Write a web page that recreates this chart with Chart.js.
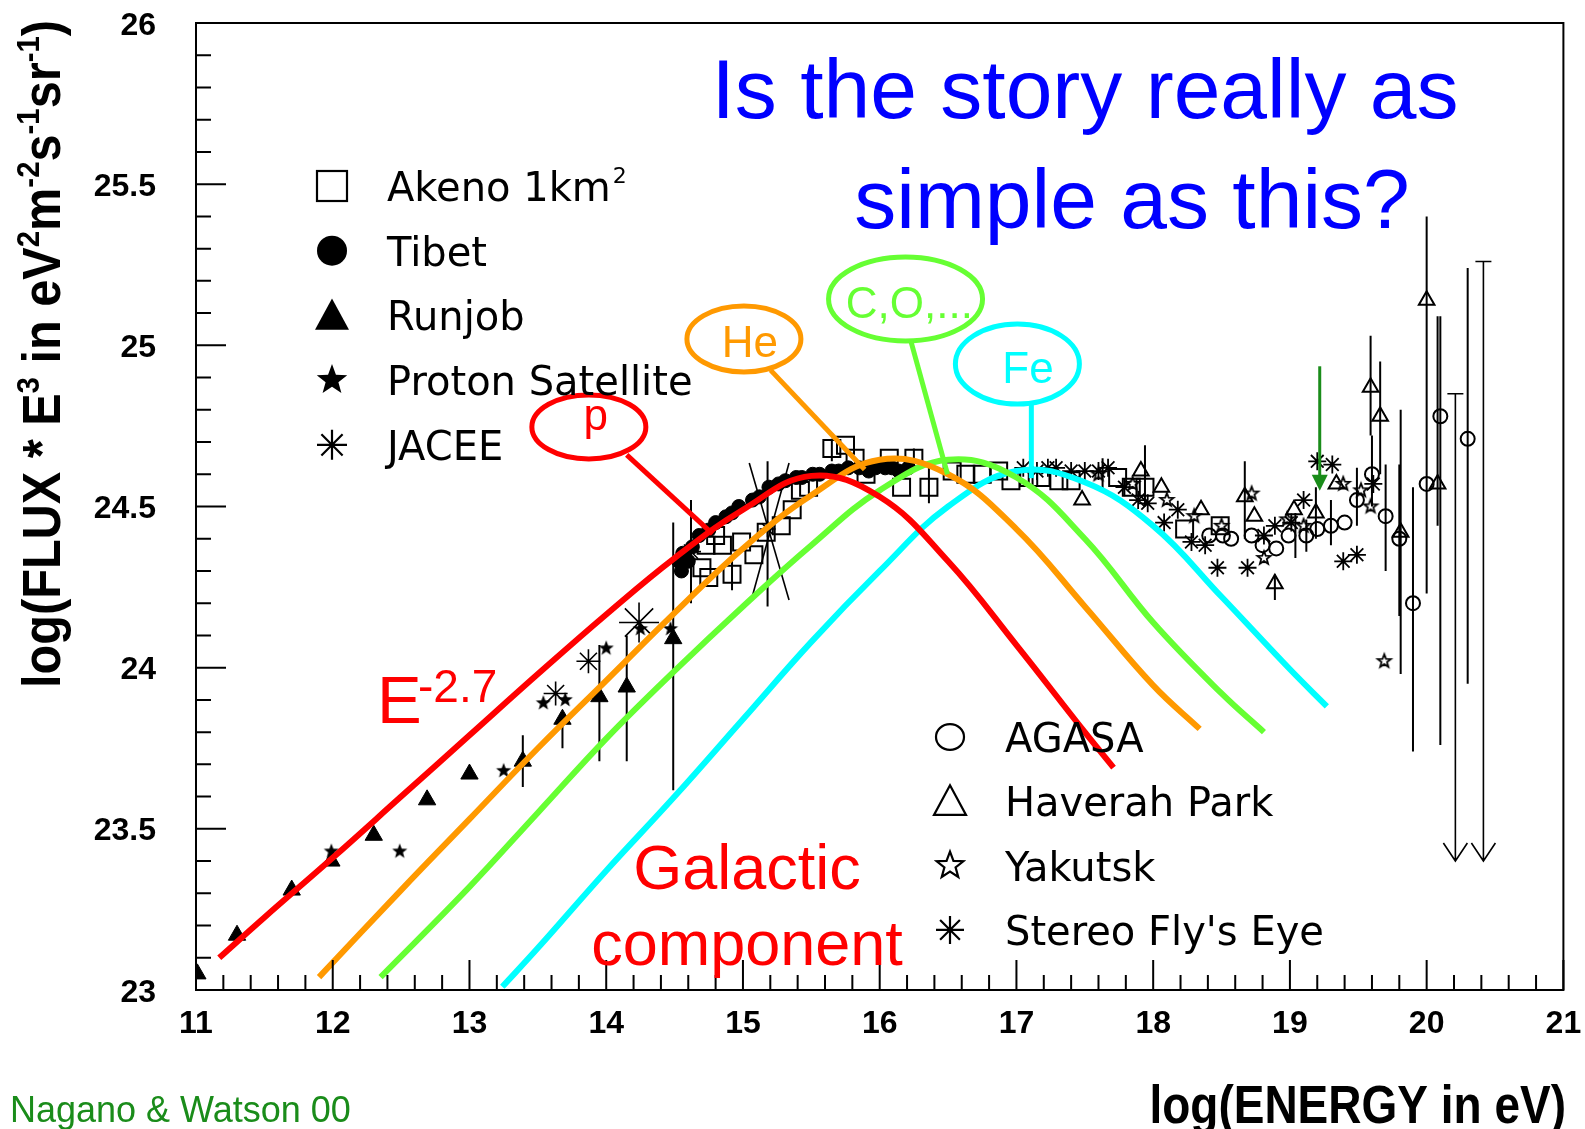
<!DOCTYPE html>
<html>
<head>
<meta charset="utf-8">
<script src="https://cdn.jsdelivr.net/npm/chart.js@4.4.1/dist/chart.umd.min.js"></script>
<style>
  html, body { margin: 0; padding: 0; background: #fff; }
  #wrap { position: relative; width: 1585px; height: 1129px; }
</style>
</head>
<body>
<div id="wrap"><canvas id="chart" width="1585" height="1129"></canvas></div>
<script>
// axis ticks
const xTicks = [11, 12, 13, 14, 15, 16, 17, 18, 19, 20, 21];
const yTicks = [23, 23.5, 24, 24.5, 25, 25.5, 26];

// model curves (log E, log flux*E^3)
const protonCurve = [[11.17, 23.10], [11.5, 23.225], [12.0, 23.41], [12.5, 23.60], [13.0, 23.79], [13.5, 23.98],
  [14.0, 24.165], [14.5, 24.34], [15.0, 24.49], [15.5, 24.595], [16.0, 24.53], [16.5, 24.33], [17.0, 24.07],
  [17.5, 23.80], [17.71, 23.69]];
const heliumCurve = [[11.90, 23.04], [12.5, 23.31], [13.0, 23.53], [13.5, 23.75], [14.0, 23.96], [14.5, 24.17],
  [15.0, 24.37], [15.5, 24.535], [16.0, 24.645], [16.5, 24.60], [17.0, 24.43], [17.5, 24.19], [18.0, 23.945],
  [18.34, 23.81]];
const cnoCurve = [[12.35, 23.04], [13.0, 23.32], [13.5, 23.55], [14.0, 23.78], [14.5, 23.99], [15.0, 24.19],
  [15.5, 24.38], [16.0, 24.55], [16.5, 24.645], [17.0, 24.59], [17.5, 24.40], [18.0, 24.14], [18.5, 23.92],
  [18.81, 23.80]];
const ironCurve = [[13.24, 23.01], [13.5, 23.13], [14.0, 23.37], [14.5, 23.60], [15.0, 23.84], [15.5, 24.08],
  [16.0, 24.30], [16.5, 24.50], [17.0, 24.61], [17.5, 24.575], [18.0, 24.44], [18.5, 24.22], [19.0, 23.995],
  [19.27, 23.88]];

// measurements
const akeno = [[14.70, 24.31], [14.73, 24.38], [14.75, 24.28], [14.80, 24.41], [14.85, 24.38], [14.92, 24.29],
  [14.99, 24.39], [15.08, 24.35], [15.17, 24.42], [15.28, 24.44], [15.36, 24.49], [15.42, 24.55], [15.48, 24.56],
  [15.65, 24.68], [15.75, 24.69], [15.82, 24.65], [15.90, 24.60], [16.07, 24.65], [16.16, 24.56], [16.25, 24.65],
  [16.36, 24.56], [16.53, 24.61], [16.63, 24.60], [16.75, 24.60], [16.87, 24.61], [16.96, 24.58], [17.09, 24.59],
  [17.18, 24.59], [17.31, 24.58], [17.40, 24.58], [17.74, 24.59], [17.84, 24.56], [17.94, 24.56], [18.23, 24.43],
  [18.49, 24.44]];
const tibet = [[14.53, 24.33], [14.55, 24.30], [14.56, 24.355], [14.60, 24.33], [14.63, 24.375], [14.68, 24.41],
  [14.75, 24.427], [14.80, 24.45], [14.875, 24.468], [14.92, 24.48], [14.97, 24.50], [15.07, 24.52], [15.12, 24.53],
  [15.19, 24.56], [15.26, 24.57], [15.31, 24.58], [15.39, 24.59], [15.43, 24.59], [15.51, 24.60], [15.56, 24.60],
  [15.65, 24.61], [15.70, 24.61], [15.77, 24.62], [15.85, 24.62], [15.92, 24.61], [15.97, 24.62], [16.04, 24.62],
  [16.09, 24.62], [16.14, 24.61], [16.21, 24.62]];
const runjob = [[11.01, 23.05], [11.30, 23.17], [11.70, 23.31], [11.99, 23.40], [12.30, 23.48], [12.69, 23.59],
  [13.0, 23.67], [13.39, 23.71], [13.68, 23.84], [13.95, 23.91], [14.15, 23.94], [14.49, 24.09]];
const protonSat = [[11.99, 23.43], [12.49, 23.43], [13.25, 23.68], [13.54, 23.89], [13.70, 23.90], [14.0, 24.06],
  [14.25, 24.12], [14.47, 24.12]];
const jacee = [[13.63, 23.92], [13.87, 24.02], [14.24, 24.14], [14.62, 24.36], [15.18, 24.43]];
const jaceeSize = [12, 12, 20, 10, 8];
const agasa = [[18.41, 24.41], [18.51, 24.41], [18.57, 24.40], [18.72, 24.41], [18.80, 24.38], [18.90, 24.37],
  [18.99, 24.41], [19.12, 24.41], [19.20, 24.43], [19.30, 24.44], [19.40, 24.45], [19.49, 24.52], [19.60, 24.60],
  [19.70, 24.47], [19.80, 24.40], [19.90, 24.20], [20.00, 24.57], [20.10, 24.78], [20.30, 24.71]];
const haverah = [[17.48, 24.52], [17.91, 24.61], [18.06, 24.56], [18.35, 24.49], [18.67, 24.53], [18.74, 24.47],
  [18.89, 24.26], [19.03, 24.49], [19.19, 24.48], [19.34, 24.57], [19.59, 24.87], [19.66, 24.78], [19.81, 24.42],
  [20.00, 25.14], [20.08, 24.57]];
const yakutsk = [[17.60, 24.60], [17.85, 24.57], [18.10, 24.52], [18.30, 24.47], [18.50, 24.44], [18.72, 24.54],
  [18.81, 24.34], [18.98, 24.46], [19.10, 24.44], [19.39, 24.57], [19.52, 24.55], [19.59, 24.50], [19.69, 24.02]];
const flysEye = [[17.05, 24.62], [17.15, 24.61], [17.23, 24.62], [17.29, 24.62], [17.40, 24.61], [17.50, 24.61],
  [17.60, 24.61], [17.67, 24.62], [17.79, 24.56], [17.89, 24.52], [17.96, 24.51], [18.08, 24.45], [18.18, 24.49],
  [18.28, 24.39], [18.38, 24.38], [18.47, 24.31], [18.69, 24.31], [18.81, 24.41], [18.89, 24.44], [19.01, 24.45],
  [19.10, 24.52], [19.20, 24.64], [19.31, 24.63], [19.39, 24.33], [19.49, 24.35], [19.61, 24.57]];

// error bars [x, low, high]
const errorBars = [[14.49, 23.62, 24.45], [13.39, 23.63, 23.79], [13.68, 23.75, 23.86], [13.95, 23.71, 24.07],
  [14.15, 23.71, 24.10], [15.18, 24.19, 24.64], [14.62, 24.20, 24.52], [14.92, 24.24, 24.34], [15.65, 24.64, 24.71],
  [16.25, 24.61, 24.68], [16.36, 24.51, 24.62], [17.09, 24.56, 24.62], [17.63, 24.55, 24.65], [17.94, 24.50, 24.69],
  [18.67, 24.40, 24.64], [18.89, 24.21, 24.29], [19.19, 24.40, 24.56], [19.49, 24.44, 24.62], [19.60, 24.50, 24.72],
  [19.70, 24.30, 24.63], [19.80, 24.16, 24.63], [19.81, 23.98, 24.80], [19.90, 23.74, 24.56], [20.10, 23.76, 25.09],
  [20.30, 23.95, 25.24], [19.59, 24.72, 25.03], [19.66, 24.60, 24.95], [20.00, 24.23, 25.40], [20.08, 24.44, 25.09],
  [19.30, 24.38, 24.52], [19.12, 24.36, 24.46], [19.04, 24.34, 24.48]];
// slanted JACEE error lines [x1, y1, x2, y2]
const slantBars = [[15.046, 24.635, 15.337, 24.210], [15.337, 24.635, 15.067, 24.219]];
// upper limits [x, top, arrow tip]
const upperLimits = [[20.21, 24.85, 23.40], [20.415, 25.26, 23.40]];

const FONT = "'Liberation Sans', Arial, sans-serif";
const LFONT = "'DejaVu Sans', sans-serif";

function starPath(g, x, y, r) {
  g.beginPath();
  for (let i = 0; i < 10; i++) {
    const a = -Math.PI / 2 + i * Math.PI / 5;
    const rr = i % 2 ? r * 0.42 : r;
    g.lineTo(x + rr * Math.cos(a), y + rr * Math.sin(a));
  }
  g.closePath();
}
function starImage(r, filled) {
  const c = document.createElement("canvas");
  const s = Math.ceil(r * 2 + 6);
  c.width = s; c.height = s;
  const g = c.getContext("2d");
  starPath(g, s / 2, s / 2, r);
  if (filled) { g.fillStyle = "#000"; g.fill(); }
  else { g.lineWidth = 1.8; g.strokeStyle = "#000"; g.stroke(); }
  return c;
}

const toXY = arr => arr.map(p => ({ x: p[0], y: p[1] }));

function curve(arr, color) {
  return { data: toXY(arr), showLine: true, borderColor: color, borderWidth: 6, pointRadius: 0,
    tension: 0.4, fill: false, order: 0 };
}
function marks(arr, style, r, fill, lw) {
  return { data: toXY(arr), showLine: false, pointStyle: style, pointRadius: r, pointHoverRadius: r,
    pointBackgroundColor: fill, pointBorderColor: "#000", pointBorderWidth: lw, order: 1 };
}

// ---- custom drawing: error bars, frame, inner ticks, annotations, legends ----
function drawMarker(g, kind, x, y, r) {
  g.save();
  g.strokeStyle = "#000"; g.fillStyle = "#000"; g.lineWidth = 2.2;
  if (kind === "square") { g.strokeRect(x - r, y - r, 2 * r, 2 * r); }
  else if (kind === "disc") { g.beginPath(); g.arc(x, y, r, 0, Math.PI * 2); g.fill(); }
  else if (kind === "ring") { g.beginPath(); g.ellipse(x, y, r, r * 0.92, 0, 0, Math.PI * 2); g.stroke(); }
  else if (kind === "tri" || kind === "otri") {
    g.beginPath(); g.moveTo(x, y - r); g.lineTo(x + r, y + r * 0.85); g.lineTo(x - r, y + r * 0.85); g.closePath();
    kind === "tri" ? g.fill() : g.stroke();
  }
  else if (kind === "star" || kind === "ostar") {
    starPath(g, x, y, r);
    if (kind === "star") g.fill(); else g.stroke();
  }
  else if (kind === "ast") {
    g.beginPath();
    for (let i = 0; i < 4; i++) {
      const a = i * Math.PI / 4;
      g.moveTo(x - r * Math.cos(a), y - r * Math.sin(a));
      g.lineTo(x + r * Math.cos(a), y + r * Math.sin(a));
    }
    g.stroke();
  }
  g.restore();
}

function text(g, s, x, y, size, color, align, opts) {
  opts = opts || {};
  g.save();
  g.font = (opts.bold ? "bold " : "") + size + "px " + (opts.family || FONT);
  g.fillStyle = color;
  g.textAlign = align || "left";
  g.textBaseline = "alphabetic";
  g.translate(x, y);
  if (opts.sy) g.scale(1, opts.sy);
  g.fillText(s, 0, 0);
  g.restore();
}

const bubbles = [
  { label: "p", color: "#ff0000", c: [13.873, 24.747], rx: 57, ry: 32, t: [13.924, 24.737], align: "center",
    from: [14.150, 24.660], to: [14.778, 24.415] },
  { label: "He", color: "#ff9900", c: [15.007, 25.020], rx: 57, ry: 33, t: [15.051, 24.964], align: "center",
    from: [15.202, 24.923], to: [15.89, 24.615] },
  { label: "C,O,...", color: "#66ff33", c: [16.189, 25.144], rx: 77, ry: 42, t: [15.752, 25.085], align: "left",
    from: [16.226, 25.016], to: [16.496, 24.600] },
  { label: "Fe", color: "#00ffff", c: [17.007, 24.942], rx: 62, ry: 40, t: [17.084, 24.882], align: "center",
    from: [17.109, 24.815], to: [17.109, 24.588] }
];

const overlay = {
  id: "overlay",
  beforeDatasetsDraw(chart) {
    const g = chart.ctx, xs = chart.scales.x, ys = chart.scales.y, a = chart.chartArea;
    g.save();
    g.beginPath(); g.rect(a.left, a.top, a.right - a.left, a.bottom - a.top); g.clip();
    g.strokeStyle = "#000"; g.lineWidth = 2;
    errorBars.forEach(e => {
      const px = xs.getPixelForValue(e[0]);
      g.beginPath(); g.moveTo(px, ys.getPixelForValue(e[1])); g.lineTo(px, ys.getPixelForValue(e[2])); g.stroke();
    });
    g.lineWidth = 1.6;
    slantBars.forEach(s => {
      g.beginPath();
      g.moveTo(xs.getPixelForValue(s[0]), ys.getPixelForValue(s[1]));
      g.lineTo(xs.getPixelForValue(s[2]), ys.getPixelForValue(s[3]));
      g.stroke();
    });
    upperLimits.forEach(u => {
      const px = xs.getPixelForValue(u[0]), top = ys.getPixelForValue(u[1]), tip = ys.getPixelForValue(u[2]);
      g.beginPath();
      g.moveTo(px, top); g.lineTo(px, tip);
      g.moveTo(px - 8, top); g.lineTo(px + 8, top);
      g.moveTo(px - 12, tip - 18); g.lineTo(px, tip); g.lineTo(px + 12, tip - 18);
      g.stroke();
    });
    g.restore();
  },
  afterDraw(chart) {
    const g = chart.ctx, xs = chart.scales.x, ys = chart.scales.y, a = chart.chartArea;
    const P = (v) => [xs.getPixelForValue(v[0]), ys.getPixelForValue(v[1])];

    // frame + inward ticks
    g.save();
    g.strokeStyle = "#000"; g.lineWidth = 2;
    g.strokeRect(a.left, a.top, a.right - a.left, a.bottom - a.top);
    g.beginPath();
    for (let i = 0; i <= 50; i++) {
      const px = xs.getPixelForValue(11 + i * 0.2);
      g.moveTo(px, a.bottom); g.lineTo(px, a.bottom - (i % 5 === 0 ? 30 : 15));
    }
    for (let i = 0; i <= 30; i++) {
      const py = ys.getPixelForValue(23 + i * 0.1);
      g.moveTo(a.left, py); g.lineTo(a.left + (i % 5 === 0 ? 30 : 15), py);
    }
    g.stroke();
    g.restore();

    // tick labels
    xTicks.forEach(v => text(g, String(v), xs.getPixelForValue(v), 1033, 32, "#000", "center", { bold: true }));
    yTicks.forEach(v => text(g, String(v), 156, ys.getPixelForValue(v) + 11.5, 32, "#000", "right", { bold: true }));

    // green marker arrow
    g.save();
    const ar = P([19.218, 24.935]), tip = P([19.218, 24.549]);
    g.strokeStyle = "#1a8c1a"; g.fillStyle = "#1a8c1a"; g.lineWidth = 3;
    g.beginPath(); g.moveTo(ar[0], ar[1]); g.lineTo(tip[0], tip[1] - 14); g.stroke();
    g.beginPath(); g.moveTo(tip[0] - 8, tip[1] - 16); g.lineTo(tip[0] + 8, tip[1] - 16); g.lineTo(tip[0], tip[1]);
    g.closePath(); g.fill();
    g.restore();

    // labelled bubbles
    bubbles.forEach(b => {
      const c = P(b.c), f = P(b.from), t = P(b.to), tp = P(b.t);
      g.save();
      g.strokeStyle = b.color; g.lineWidth = 5;
      g.beginPath(); g.ellipse(c[0], c[1], b.rx, b.ry, 0, 0, Math.PI * 2); g.stroke();
      g.beginPath(); g.moveTo(f[0], f[1]); g.lineTo(t[0], t[1]); g.stroke();
      g.restore();
      text(g, b.label, tp[0], tp[1], 44, b.color, b.align);
    });

    // question
    text(g, "Is the story really as", 1085, 118, 84, "#0000ff", "center");
    text(g, "simple as this?", 1132, 228, 84, "#0000ff", "center");

    // E^-2.7 and galactic component
    text(g, "E", 377, 723, 67, "#ff0000", "left");
    text(g, "-2.7", 418, 702, 46, "#ff0000", "left");
    text(g, "Galactic", 747, 889, 63, "#ff0000", "center");
    text(g, "component", 747, 965, 63, "#ff0000", "center");

    // source
    text(g, "Nagano & Watson 00", 10, 1122, 36, "#1a8c1a", "left");

    // upper left legend
    const leg1 = [["square", 15, "Akeno 1km"], ["disc", 15, "Tibet"], ["tri", 17, "Runjob"],
      ["star", 16, "Proton Satellite"], ["ast", 15, "JACEE"]];
    leg1.forEach((l, i) => {
      const y = 186 + i * 64.7;
      drawMarker(g, l[0], 332, y, l[1]);
      text(g, l[2], 387, y + 15, 40, "#000", "left", { family: LFONT });
    });
    g.save(); g.font = "40px " + LFONT; const kmW = g.measureText("Akeno 1km").width; g.restore();
    text(g, "2", 387 + kmW + 2, 183, 22, "#000", "left", { family: LFONT });

    // lower legend
    const leg2 = [["ring", 14, "AGASA"], ["otri", 16, "Haverah Park"], ["ostar", 14, "Yakutsk"],
      ["ast", 14, "Stereo Fly's Eye"]];
    leg2.forEach((l, i) => {
      const y = 737 + i * 64.3;
      drawMarker(g, l[0], 950, y, l[1]);
      text(g, l[2], 1005, y + 15, 40, "#000", "left", { family: LFONT });
    });

    // axis titles
    text(g, "log(ENERGY in eV)", 1566, 1123, 46, "#000", "right", { bold: true, sy: 1.18 });

    const parts = [["log(FLUX * E", 0], ["3", 1], [" in eV", 0], ["2", 1], ["m", 0], ["-2", 1], ["s", 0],
      ["-1", 1], ["sr", 0], ["-1", 1], [")", 0]];
    g.save();
    const base = "bold 48px " + FONT, sup = "bold 29px " + FONT;
    let w = 0;
    parts.forEach(p => { g.font = p[1] ? sup : base; w += g.measureText(p[0]).width; });
    g.translate(60, 354);
    g.rotate(-Math.PI / 2);
    g.scale(668 / w, 1.1);
    g.fillStyle = "#000"; g.textBaseline = "alphabetic"; g.textAlign = "left";
    let cx = -w / 2;
    parts.forEach(p => {
      g.font = p[1] ? sup : base;
      g.fillText(p[0], cx, p[1] ? -19 : 0);
      cx += g.measureText(p[0]).width;
    });
    g.restore();
  }
};

new Chart(document.getElementById("chart"), {
  type: "scatter",
  data: {
    datasets: [
      curve(protonCurve, "#ff0000"),
      curve(heliumCurve, "#ff9900"),
      curve(cnoCurve, "#66ff33"),
      curve(ironCurve, "#00ffff"),
      marks(akeno, "rect", 12, "rgba(0,0,0,0)", 2),
      marks(tibet, "circle", 7, "#000", 1),
      marks(runjob, "triangle", 10, "#000", 1),
      marks(protonSat, starImage(8, true), 8, "#000", 1),
      Object.assign(marks(jacee, "star", 10, "rgba(0,0,0,0)", 1.6), { pointRadius: jaceeSize }),
      marks(agasa, "circle", 7, "rgba(0,0,0,0)", 2),
      marks(haverah, "triangle", 9, "rgba(0,0,0,0)", 2),
      marks(yakutsk, starImage(7, false), 7, "rgba(0,0,0,0)", 1),
      marks(flysEye, "star", 9, "rgba(0,0,0,0)", 1.8)
    ]
  },
  options: {
    responsive: false,
    animation: false,
    events: [],
    layout: { padding: { left: 0, right: 18, top: 23, bottom: 0 } },
    plugins: { legend: { display: false }, tooltip: { enabled: false } },
    scales: {
      x: {
        type: "linear", min: 11, max: 21,
        afterFit: s => { s.height = 139; },
        ticks: { display: false },
        grid: { display: false, drawTicks: false, tickLength: 0 },
        border: { display: true, color: "#000", width: 2 }
      },
      y: {
        type: "linear", min: 23, max: 26,
        afterFit: s => { s.width = 196; },
        ticks: { display: false },
        grid: { display: false, drawTicks: false, tickLength: 0 },
        border: { display: true, color: "#000", width: 2 }
      }
    }
  },
  plugins: [overlay]
});
</script>
</body>
</html>
